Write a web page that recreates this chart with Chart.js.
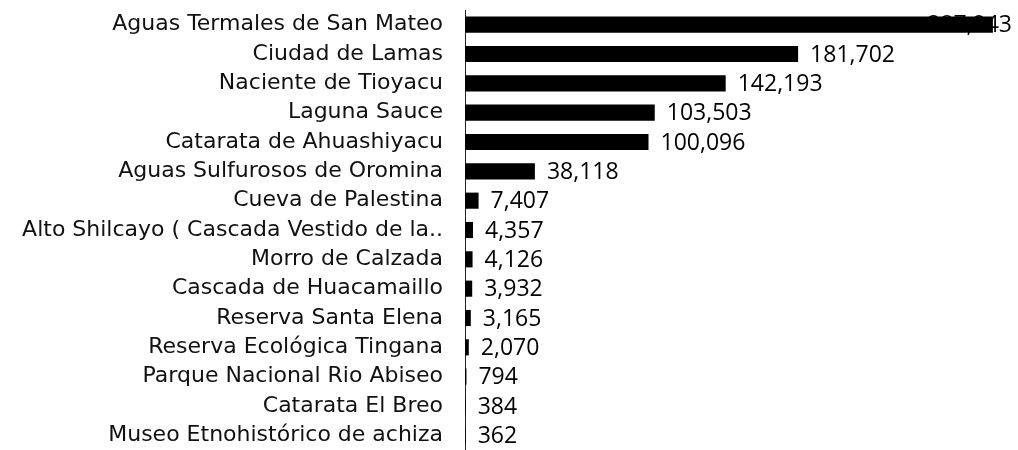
<!DOCTYPE html>
<html>
<head>
<meta charset="utf-8">
<script src="https://cdn.jsdelivr.net/npm/chart.js@4/dist/chart.umd.min.js"></script>
<style>
  html, body { margin: 0; padding: 0; background: #fff; }
  #wrap { width: 1018px; height: 450px; }
</style>
</head>
<body>
<div id="wrap"><canvas id="barChart" width="1018" height="450"></canvas></div>
<script>
var lugares = ['Aguas Termales de San Mateo', 'Ciudad de Lamas', 'Naciente de Tioyacu', 'Laguna Sauce',
    'Catarata de Ahuashiyacu', 'Aguas Sulfurosos de Oromina', 'Cueva de Palestina',
    'Alto Shilcayo ( Cascada Vestido de la..', 'Morro de Calzada', 'Cascada de Huacamaillo',
    'Reserva Santa Elena', 'Reserva Ecológica Tingana', 'Parque Nacional Rio Abiseo',
    'Catarata El Breo', 'Museo Etnohistórico de achiza'];
var visitantes = [287943, 181702, 142193, 103503, 100096, 38118, 7407, 4357, 4126, 3932, 3165, 2070, 794, 384, 362];
var ejeMax = 300000;

// etiquetas de valor al final de cada barra
var etiquetas = {
    id: 'etiquetas',
    afterDatasetsDraw: function (chart) {
        var ctx = chart.ctx;
        var meta = chart.getDatasetMeta(0);
        ctx.save();
        ctx.font = '23px "Open Sans"';
        ctx.fillStyle = '#000';
        ctx.textBaseline = 'middle';
        meta.data.forEach(function (bar, i) {
            var txt = visitantes[i].toLocaleString('en-US');
            var w = ctx.measureText(txt).width;
            var x = Math.min(bar.x + 12, chart.width - w - 6);
            ctx.fillText(txt, x, bar.y + 1);
        });
        ctx.restore();
    }
};

var ctxBar = document.getElementById('barChart').getContext('2d');
var barChart = new Chart(ctxBar, {
    type: 'bar',
    data: {
        labels: lugares,
        datasets: [{
            data: visitantes,
            backgroundColor: '#000',
            barPercentage: 0.55,
            categoryPercentage: 1
        }]
    },
    options: {
        indexAxis: 'y',
        responsive: false,
        animation: false,
        layout: { padding: { top: 10, right: 3, bottom: 0, left: 0 } },
        plugins: {
            legend: { display: false },
            tooltip: { enabled: false }
        },
        scales: {
            x: {
                display: false,
                min: 0,
                max: ejeMax
            },
            y: {
                afterFit: function (scale) {
                    scale.width = 465;
                    scale.paddingTop = 0;
                    scale.paddingBottom = 0;
                },
                grid: { display: false, drawTicks: false },
                border: { display: true, color: '#222', width: 1 },
                ticks: {
                    padding: 22,
                    color: '#111',
                    autoSkip: false,
                    font: { family: 'DejaVu Sans', size: 22 }
                }
            }
        }
    },
    plugins: [etiquetas]
});
</script>
</body>
</html>
